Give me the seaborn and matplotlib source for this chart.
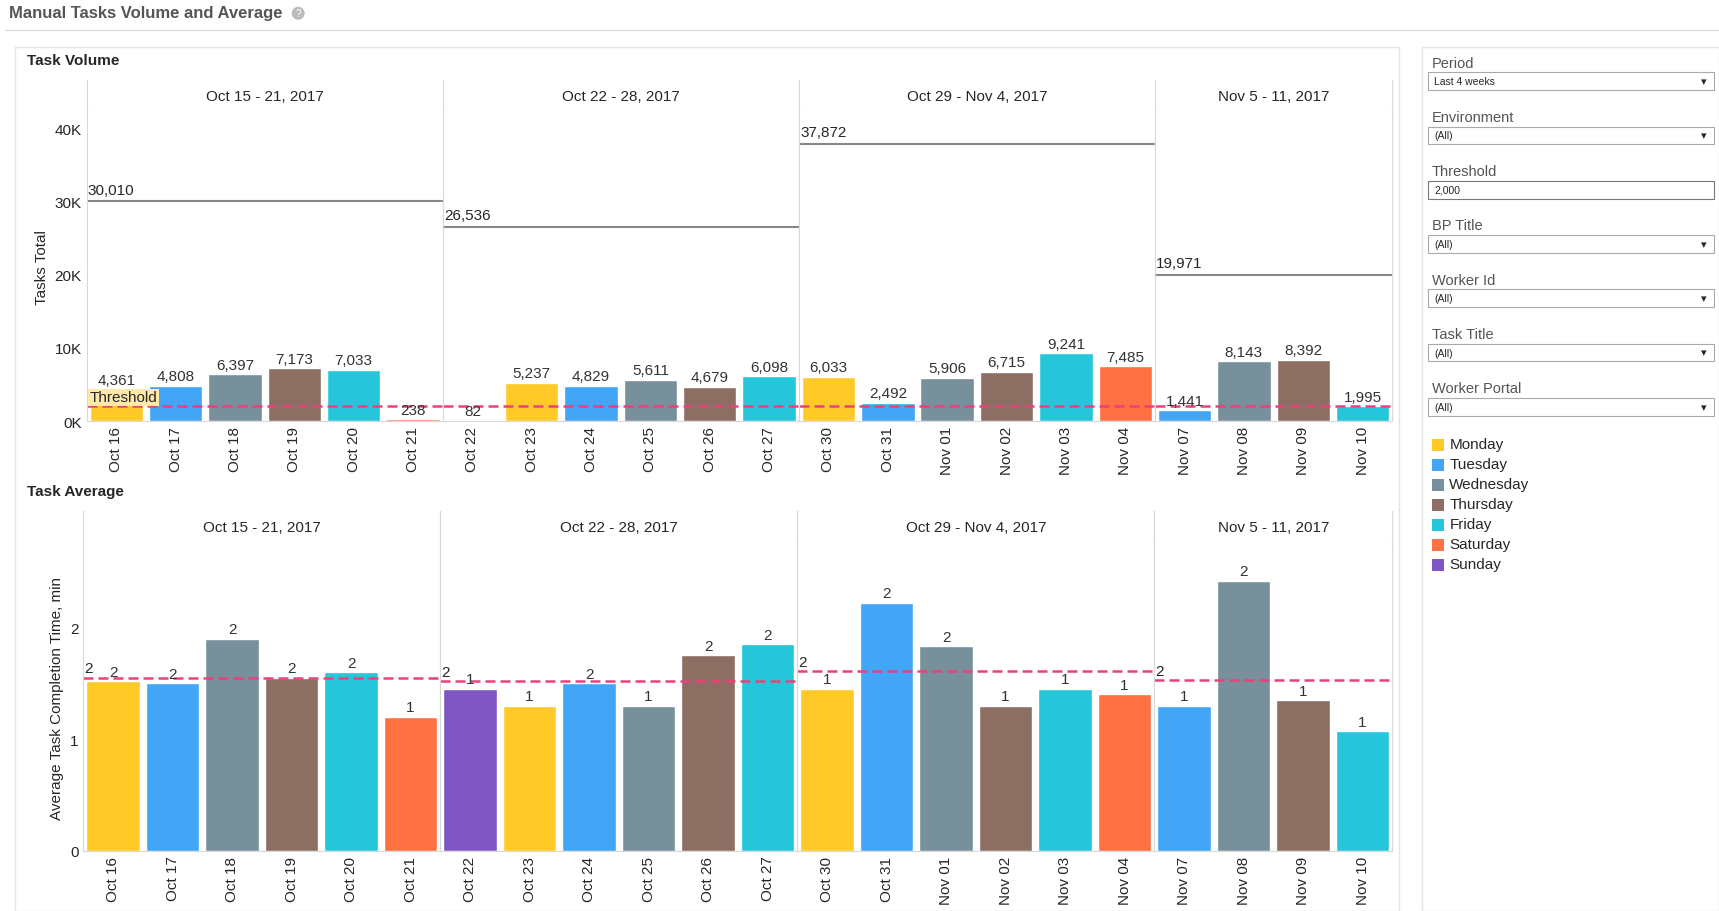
import matplotlib
matplotlib.use("Agg")
import matplotlib.pyplot as plt
from matplotlib.patches import Rectangle
import seaborn as sns
import pandas as pd

sns.set_style("white")
plt.rcParams['font.family'] = ['Liberation Sans', 'DejaVu Sans']

# ---- data ----
weeks = ["Oct 15 - 21, 2017", "Oct 22 - 28, 2017", "Oct 29 - Nov 4, 2017", "Nov 5 - 11, 2017"]
dates = [["Oct 16", "Oct 17", "Oct 18", "Oct 19", "Oct 20", "Oct 21"],
         ["Oct 22", "Oct 23", "Oct 24", "Oct 25", "Oct 26", "Oct 27"],
         ["Oct 30", "Oct 31", "Nov 01", "Nov 02", "Nov 03", "Nov 04"],
         ["Nov 07", "Nov 08", "Nov 09", "Nov 10"]]
days = [["Monday", "Tuesday", "Wednesday", "Thursday", "Friday", "Saturday"],
        ["Sunday", "Monday", "Tuesday", "Wednesday", "Thursday", "Friday"],
        ["Monday", "Tuesday", "Wednesday", "Thursday", "Friday", "Saturday"],
        ["Tuesday", "Wednesday", "Thursday", "Friday"]]
volume = [[4361, 4808, 6397, 7173, 7033, 238],
          [82, 5237, 4829, 5611, 4679, 6098],
          [6033, 2492, 5906, 6715, 9241, 7485],
          [1441, 8143, 8392, 1995]]
week_total = [30010, 26536, 37872, 19971]
average = [[1.52, 1.5, 1.9, 1.55, 1.6, 1.2],
           [1.45, 1.3, 1.5, 1.3, 1.75, 1.85],
           [1.45, 2.22, 1.83, 1.3, 1.45, 1.4],
           [1.3, 2.42, 1.35, 1.07]]
week_avg = [1.55, 1.52, 1.61, 1.53]
threshold = 2000

day_order = ["Monday", "Tuesday", "Wednesday", "Thursday", "Friday", "Saturday", "Sunday"]
palette = {"Monday": "#FFCA28", "Tuesday": "#42A5F5", "Wednesday": "#78909C",
           "Thursday": "#8D6E63", "Friday": "#26C6DA", "Saturday": "#FF7043",
           "Sunday": "#7E57C2"}
pink = "#EC407A"
grid_c = "#D8D8D8"

fig = plt.figure(figsize=(17.19, 9.12), dpi=100)
W, H = 1568.0, 832.0

fig.text(8 / W, 1 - 12 / H, "Manual Tasks Volume and Average", fontsize=12, fontweight="bold",
         color="#555555", va="center")
fig.text(272 / W, 1 - 13 / H, "?", fontsize=7, color="white", va="center", ha="center",
         bbox=dict(boxstyle="circle,pad=0.15", fc="#BBBBBB", ec="none"))
fig.add_artist(plt.Line2D([5 / W, 1], [1 - 28 / H] * 2, color="#DDDDDD", lw=1))
fig.add_artist(Rectangle((14 / W, 0.0), (1276 - 14) / W, 1 - 44 / H, fill=False, ec="#E5E5E5", lw=1))

x0, x1 = 79 / W, 1270 / W
ndays = [len(d) for d in dates]
unit = (x1 - x0) / sum(ndays)


def draw_chart(values, totals, ylim, yticks, ytlabels, ylabel, title, ybot, ytop, hdr, fmt, x_start):
    unit_l = (x1 - x_start) / sum(ndays)
    fig.text(25 / W, hdr + 0.022, title, fontsize=11, fontweight="bold", va="center")
    left = x_start
    for i in range(len(weeks)):
        w = unit_l * ndays[i]
        hax = fig.add_axes([left, ytop, w, hdr - ytop])
        hax.set_xticks([]); hax.set_yticks([])
        for s in hax.spines.values():
            s.set_color(grid_c)
        hax.spines["top"].set_visible(False)
        hax.text(0.5, 0.5, weeks[i], ha="center", va="center", fontsize=11, transform=hax.transAxes)
        ax = fig.add_axes([left, ybot, w, ytop - ybot])
        df = pd.DataFrame({"date": dates[i], "day": days[i], "val": values[i]})
        sns.barplot(data=df, x="date", y="val", hue="day", palette=palette, dodge=False,
                    width=0.9, legend=False, ax=ax, saturation=1)
        ax.set_ylim(*ylim)
        ax.set_xlim(-0.5, ndays[i] - 0.5)
        ax.set_xlabel(""); ax.set_ylabel("")
        ax.tick_params(axis="x", rotation=90, labelsize=11, length=0)
        for s in ax.spines.values():
            s.set_color(grid_c)
        ax.spines["top"].set_visible(False)
        if i == 0:
            ax.set_yticks(yticks)
            ax.set_yticklabels(ytlabels, fontsize=11)
            ax.tick_params(axis="y", length=0)
            ax.set_ylabel(ylabel, fontsize=11)
        else:
            ax.set_yticks([])
        for j, v in enumerate(values[i]):
            ax.text(j, v + (ylim[1] - ylim[0]) * 0.008, fmt(v), ha="center", va="bottom",
                    fontsize=11, color="#333333")
        tot = totals[i]
        if fmt is vol_fmt:
            ax.axhline(tot, color="#888888", lw=1.5)
            ax.text(-0.48, tot + 600, fmt(tot), ha="left", va="bottom", fontsize=11)
            ax.axhline(threshold, color=pink, lw=1.8, ls=(0, (4, 2)))
            if i == 0:
                ax.text(-0.45, threshold + 300, "Threshold", fontsize=11, va="bottom",
                        bbox=dict(fc="#FFE9A8", ec="none", pad=1))
        else:
            ax.axhline(tot, color=pink, lw=1.8, ls=(0, (4, 2)))
            ax.text(-0.48, tot + 0.02, fmt(tot), ha="left", va="bottom", fontsize=11)
        left += w


def vol_fmt(v):
    return f"{v:,.0f}"


def avg_fmt(v):
    return str(int(v + 0.5))


draw_chart(volume, week_total, (0, 42200), [0, 10000, 20000, 30000, 40000],
           ["0K", "10K", "20K", "30K", "40K"], "Tasks Total", "Task Volume",
           1 - 385 / H, 1 - 103 / H, 1 - 74 / H, vol_fmt, 79 / W)
draw_chart(average, week_avg, (0, 2.75), [0, 1, 2], ["0", "1", "2"],
           "Average Task Completion Time, min", "Task Average",
           1 - 777 / H, 1 - 497 / H, 1 - 467 / H, avg_fmt, 76 / W)

# ---- filter panel ----
fig.add_artist(Rectangle((1297 / W, 0.0), (1568 - 1297) / W, 1 - 44 / H, fill=False, ec="#E5E5E5", lw=1))
filters = [("Period", "Last 4 weeks"), ("Environment", "(All)"), ("Threshold", "2,000"),
           ("BP Title", "(All)"), ("Worker Id", "(All)"), ("Task Title", "(All)"),
           ("Worker Portal", "(All)")]
for k, (name, val) in enumerate(filters):
    y = 58 + k * 49.5
    fig.text(1306 / W, 1 - y / H, name, fontsize=10.5, color="#555555", va="center")
    fig.add_artist(Rectangle((1303 / W, 1 - (y + 25) / H), 260 / W, 16 / H, fill=False,
                             ec="#AAAAAA" if name != "Threshold" else "#777777", lw=0.8))
    fig.text(1308 / W, 1 - (y + 17) / H, val, fontsize=7.5, va="center")
    if name != "Threshold":
        fig.text(1554 / W, 1 - (y + 17) / H, "\u25BE", fontsize=8, va="center", ha="center")

for k, d in enumerate(day_order):
    y = 406 + k * 18.3
    fig.add_artist(Rectangle((1306 / W, 1 - (y + 6) / H), 11 / W, 11 / H, fc=palette[d], ec="none"))
    fig.text(1322 / W, 1 - y / H, d, fontsize=11, va="center")

fig.savefig("out.png", dpi=100)
